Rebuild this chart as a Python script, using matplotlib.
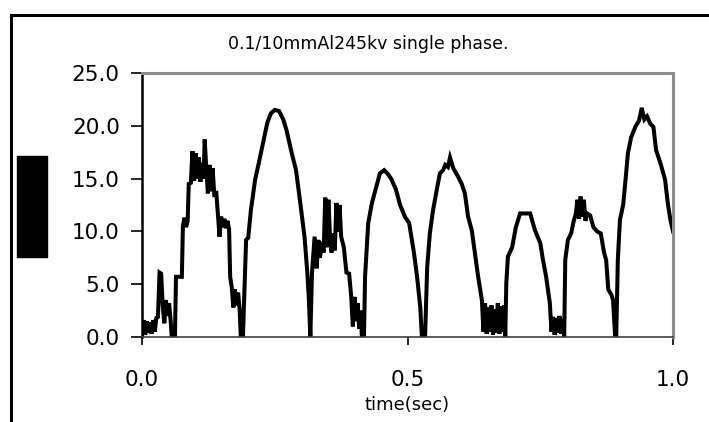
import matplotlib.pyplot as plt
from matplotlib.lines import Line2D
from matplotlib.patches import Rectangle

# ---- data ----
time_sec = [
    0.000, 0.003, 0.006, 0.009, 0.012, 0.015, 0.018, 0.021, 0.024, 0.027,
    0.030, 0.033, 0.036, 0.039, 0.042, 0.045, 0.048, 0.051, 0.054, 0.056,
    0.062, 0.064, 0.075, 0.077, 0.080, 0.083, 0.086, 0.088, 0.092, 0.095,
    0.098, 0.101, 0.104, 0.107, 0.110, 0.113, 0.116, 0.118, 0.121, 0.124,
    0.127, 0.130, 0.133, 0.136, 0.140, 0.143, 0.146, 0.149, 0.152, 0.155,
    0.158, 0.161, 0.164, 0.166, 0.169, 0.172, 0.175, 0.178, 0.181, 0.184,
    0.186, 0.190, 0.192, 0.196, 0.200, 0.205, 0.213, 0.220, 0.228, 0.236,
    0.243, 0.250, 0.258, 0.266, 0.272, 0.282, 0.290, 0.298, 0.306, 0.311,
    0.314, 0.317, 0.320, 0.325, 0.329, 0.332, 0.335, 0.339, 0.342, 0.345,
    0.348, 0.351, 0.354, 0.357, 0.360, 0.363, 0.366, 0.369, 0.372, 0.375,
    0.380, 0.385, 0.390, 0.394, 0.397, 0.400, 0.403, 0.406, 0.409, 0.412,
    0.414, 0.418, 0.420, 0.426, 0.433, 0.441, 0.448, 0.456, 0.462, 0.469,
    0.478, 0.486, 0.495, 0.503, 0.512, 0.518, 0.524, 0.527, 0.533, 0.537,
    0.542, 0.548, 0.556, 0.561, 0.567, 0.571, 0.576, 0.580, 0.586, 0.595,
    0.602, 0.608, 0.614, 0.621, 0.627, 0.633, 0.640, 0.643, 0.646, 0.649,
    0.652, 0.655, 0.658, 0.661, 0.664, 0.667, 0.670, 0.673, 0.676, 0.679,
    0.682, 0.684, 0.686, 0.689, 0.697, 0.704, 0.712, 0.731, 0.740, 0.750,
    0.755, 0.761, 0.768, 0.771, 0.774, 0.777, 0.780, 0.783, 0.786, 0.789,
    0.792, 0.795, 0.797, 0.802, 0.808, 0.813, 0.817, 0.820, 0.823, 0.826,
    0.829, 0.832, 0.835, 0.838, 0.844, 0.850, 0.857, 0.864, 0.870, 0.874,
    0.878, 0.884, 0.887, 0.891, 0.893, 0.896, 0.900, 0.906, 0.910, 0.915,
    0.921, 0.929, 0.936, 0.941, 0.946, 0.951, 0.957, 0.963, 0.968, 0.976,
    0.985, 0.990, 0.995, 1.000,
]
signal = [
    0.3, 1.6, 0.2, 1.5, 0.4, 1.4, 0.3, 1.6, 0.5, 1.8,
    1.9, 6.1, 6.0, 3.0, 1.3, 3.5, 2.0, 3.2, 1.5, 0.0,
    0.0, 5.7, 5.7, 10.5, 11.3, 10.4, 11.0, 14.5, 14.6, 17.6,
    14.8, 17.4, 15.0, 17.0, 14.7, 16.5, 15.0, 18.7, 16.0, 13.6,
    16.3, 13.8, 16.0, 13.5, 13.6, 11.5, 9.5, 11.4, 10.4, 11.2,
    10.3, 11.0, 10.2, 5.7, 4.7, 2.8, 4.5, 3.0, 4.2, 2.5,
    0.0, 0.0, 3.0, 9.2, 9.4, 12.0, 14.9, 16.5, 18.4, 20.3,
    21.2, 21.5, 21.4, 20.6, 19.6, 17.4, 15.8, 12.7, 9.5, 6.3,
    3.8, 0.0, 6.0, 9.5, 6.5, 9.2, 7.5, 9.0, 8.0, 13.2,
    8.5, 13.0, 9.5, 8.0, 9.8, 8.2, 12.7, 10.0, 12.5, 9.5,
    8.5, 6.1, 6.0, 3.8, 1.0, 3.8, 1.5, 3.2, 0.8, 2.5,
    0.0, 0.0, 5.7, 10.8, 12.7, 14.2, 15.5, 15.8, 15.5, 15.0,
    14.0, 12.5, 11.4, 10.8, 8.0, 5.7, 2.8, 0.0, 0.0, 6.6,
    9.8, 12.0, 14.2, 15.5, 15.8, 16.3, 16.1, 17.0, 16.0, 15.2,
    14.5, 13.6, 11.4, 10.1, 7.9, 5.7, 3.5, 0.5, 3.2, 0.3,
    2.8, 0.5, 3.0, 0.2, 2.6, 0.4, 3.2, 0.3, 2.9, 0.5,
    3.0, 0.0, 5.1, 7.6, 8.5, 10.4, 11.7, 11.7, 10.1, 8.9,
    7.3, 5.7, 3.2, 0.5, 1.9, 0.2, 1.8, 0.4, 2.0, 0.3,
    1.7, 0.0, 7.3, 9.2, 9.8, 11.0, 11.7, 13.0, 11.2, 13.3,
    11.4, 13.0, 11.0, 11.7, 11.5, 10.4, 10.0, 9.8, 8.0, 7.3,
    4.5, 4.0, 3.5, 0.0, 0.0, 7.3, 11.1, 12.5, 14.6, 17.4,
    18.9, 19.9, 20.5, 21.7, 20.6, 20.9, 20.2, 19.9, 17.7, 16.5,
    14.9, 12.7, 11.1, 10.0,
]
x_ticks = [0.0, 0.5, 1.0]
y_ticks = [0.0, 5.0, 10.0, 15.0, 20.0, 25.0]
title = "0.1/10mmAl245kv single phase."
x_label = "time(sec)"

fig = plt.figure(figsize=(7.09, 4.22), dpi=100)
ax = fig.add_axes([0.2003, 0.2014, 0.7490, 0.6256])

ax.plot(time_sec, signal, color="black", lw=2.9, solid_joinstyle="miter")

ax.set_xlim(0, 1)
ax.set_ylim(0, 25)
ax.set_xticks(x_ticks)
ax.set_xticklabels([f"{v:.1f}" for v in x_ticks])
ax.set_yticks(y_ticks)
ax.set_yticklabels([f"{v:.1f}" for v in y_ticks])
ax.tick_params(axis="x", direction="out", length=6, width=1.2, pad=18, labelsize=15.5)
ax.tick_params(axis="y", direction="out", length=8, width=1.2, pad=8, labelsize=15.5)

ax.spines["left"].set_color("black")
ax.spines["left"].set_linewidth(1.8)
ax.spines["bottom"].set_color("#404040")
ax.spines["bottom"].set_linewidth(1.2)
for side in ("top", "right"):
    ax.spines[side].set_color("#8c8c8c")
    ax.spines[side].set_linewidth(2.2)

ax.set_xlabel(x_label, fontsize=13, labelpad=4)
fig.text(0.519, 0.896, title, fontsize=12.5, ha="center", va="center")

# outer frame (left and top edges only) and the blacked-out y label
fig.add_artist(Line2D([0.0155, 0.0155], [0.0, 0.9645], color="black", lw=2.2,
                      transform=fig.transFigure))
fig.add_artist(Line2D([0.0155, 1.0], [0.9645, 0.9645], color="black", lw=2.2,
                      transform=fig.transFigure))
fig.add_artist(Rectangle((0.024, 0.391), 0.0423, 0.239, color="black",
                         transform=fig.transFigure))

fig.savefig("out.png", dpi=100)
